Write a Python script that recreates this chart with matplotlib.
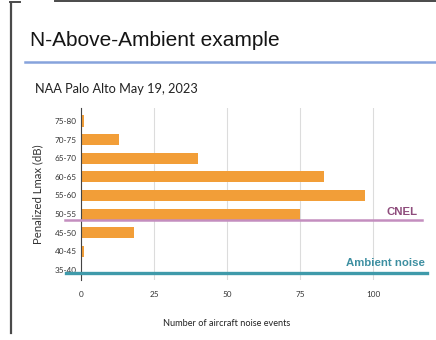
import matplotlib
matplotlib.use("Agg")
import matplotlib.pyplot as plt
from matplotlib.lines import Line2D

# Noise event counts per penalized Lmax band
bands = ["35-40", "40-45", "45-50", "50-55", "55-60", "60-65", "65-70", "70-75", "75-80"]
events = [0, 1, 18, 75, 97, 83, 40, 13, 1]
x_ticks = [0, 25, 50, 75, 100]

cnel_band = "50-55"
ambient_band = "35-40"

fig = plt.figure(figsize=(4.36, 3.40), dpi=100)
fig.patch.set_facecolor("white")

# slide frame
fig.add_artist(Line2D([10.5/436, 10.5/436], [1 - 3/340, 1 - 333/340], color="#4a4a4a", lw=1.6))
fig.add_artist(Line2D([10/436, 20/436], [1 - 1.5/340, 1 - 1.5/340], color="#4a4a4a", lw=1.4))
fig.add_artist(Line2D([55/436, 1.0], [1 - 0.8/340, 1 - 0.8/340], color="#4a4a4a", lw=1.4))

# slide title and rule
fig.text(30/436, 1 - 40/340, "N-Above-Ambient example", fontsize=15.0,
         family="Liberation Sans", color="#151515", va="center", ha="left")
fig.add_artist(Line2D([25/436, 1.0], [1 - 62/340, 1 - 62/340], color="#86a3dc", lw=1.8))

# chart title
fig.text(35/436, 1 - 89/340, "NAA Palo Alto May 19, 2023", fontsize=9.2,
         family="Lato", color="#222222", va="center", ha="left")

ax = fig.add_axes([81/436, 1 - 280/340, (426 - 81)/436, (280 - 108)/340])
ypos = list(range(len(bands)))
ax.barh(ypos, events, height=0.6, color="#F29E38", zorder=3)
ax.set_xlim(0, 118)
ax.set_ylim(-0.54, 8.7)
ax.set_yticks(ypos)
ax.set_yticklabels(bands, family="Lato", fontsize=5.9, color="#333333")
ax.set_xticks(x_ticks)
ax.set_xticklabels([str(t) for t in x_ticks], family="Lato", fontsize=5.9, color="#333333")
ax.tick_params(axis="both", length=0)
ax.tick_params(axis="y", pad=3)
ax.tick_params(axis="x", pad=8)
ax.grid(axis="x", color="#dcdcdc", lw=0.8, zorder=0)
for s in ["top", "right", "bottom"]:
    ax.spines[s].set_visible(False)
ax.spines["left"].set_color("#444444")
ax.spines["left"].set_linewidth(0.8)
ax.spines["left"].set_zorder(4)

ax.set_xlabel("Number of aircraft noise events", family="Lato", fontsize=6.6,
              color="#222222")
ax.xaxis.set_label_coords(0.423, -0.228)
ax.set_ylabel("Penalized Lmax (dB)", family="Lato", fontsize=8.2, color="#333333",
              labelpad=8)

# reference levels
yc = bands.index(cnel_band) - 0.32
ya = bands.index(ambient_band) - 0.16
ax.plot([-5.5, 116.5], [yc, yc], color="#c48ebf", lw=1.8, clip_on=False, zorder=5)
ax.plot([-5.2, 118.5], [ya, ya], color="#3f9aaa", lw=2.4, clip_on=False, zorder=5)
ax.text(115, yc + 0.18, "CNEL", family="Liberation Sans", fontweight="bold",
        fontsize=8.2, color="#8e4c7c", ha="right", va="bottom")
ax.text(117.5, ya + 0.28, "Ambient noise", family="Liberation Sans", fontweight="bold",
        fontsize=8.2, color="#3d8fa1", ha="right", va="bottom")

fig.savefig("out.png", dpi=100)
